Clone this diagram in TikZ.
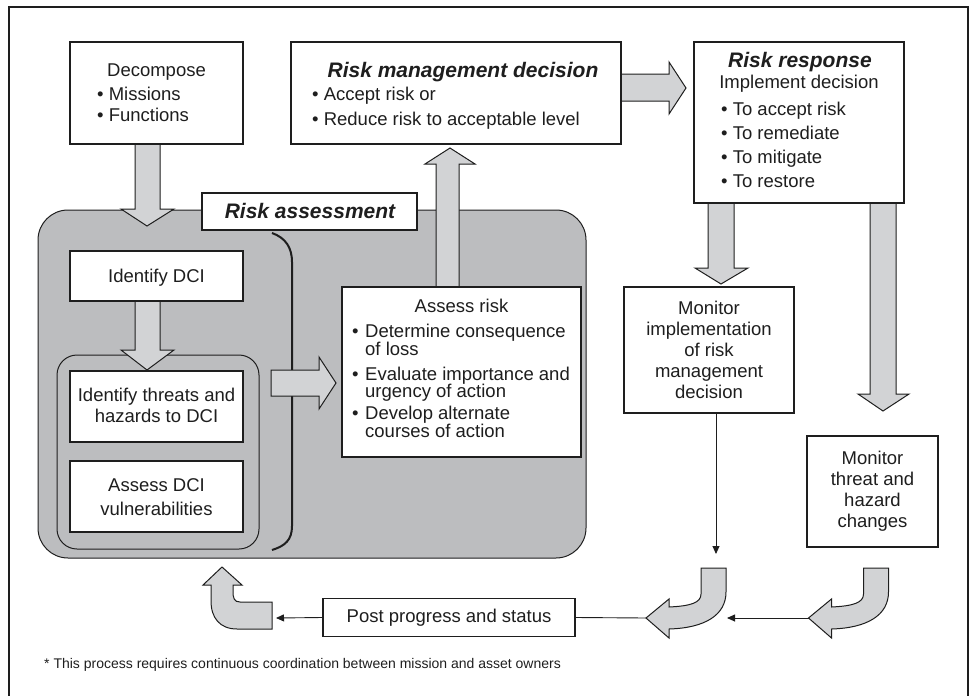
\documentclass[tikz,border=0pt]{standalone}
\usepackage{fontspec}
\setmainfont{Liberation Sans}
\usetikzlibrary{arrows.meta}
\definecolor{ragray}{RGB}{188,189,191}
\definecolor{argray}{RGB}{210,211,213}
\definecolor{ink}{RGB}{30,30,30}
\begin{document}
\begin{tikzpicture}[x=1pt,y=-1pt,
  box/.style={draw=ink, fill=white, line width=1.1pt, inner sep=0pt},
  barrow/.style={draw=ink, fill=argray, line width=1pt, line join=miter},
  txt/.style={inner sep=0pt, text=ink, font=\fontsize{18.5}{18}\selectfont},
  ttl/.style={inner sep=0pt, text=ink, font=\fontsize{21}{24}\selectfont\bfseries\itshape},
  thinln/.style={draw=ink, line width=0.9pt},
  tip/.style={-{Triangle[length=8pt,width=7pt]}}]
\useasboundingbox (0,0) rectangle (972,696);
% frame
\draw[ink, line width=1.2pt] (9,700) -- (9,7) -- (968,7) -- (968,700);

% risk assessment area
\node[draw=ink, fill=ragray, line width=1pt, rounded corners=30pt, minimum width=548pt, minimum height=348pt, inner sep=0pt] (ra) at (312,384) {};
\node[draw=ink, fill=ragray, line width=1pt, rounded corners=20pt, minimum width=202pt, minimum height=194pt, inner sep=0pt] (inner) at (158,452) {};
\draw[ink, line width=2pt] (272,233) .. controls (286,238) and (292,248) .. (292,262) -- (292,526) .. controls (292,540) and (285,546) .. (272,550);

% block arrows
\draw[barrow] (135,144) -- (135,209) -- (121,209) -- (147,226) -- (174,209) -- (160,209) -- (160,144);
\draw[barrow] (135,301) -- (135,350) -- (121,350) -- (147,370) -- (174,350) -- (160,350) -- (160,301);
\draw[barrow] (271,370) -- (319,370) -- (319,357) -- (336,383) -- (319,409) -- (319,396) -- (271,396) -- cycle;
\draw[barrow] (436,287) -- (436,164) -- (425,164) -- (450,148) -- (475,164) -- (459,164) -- (459,287);
\draw[barrow] (621,74) -- (669,74) -- (669,62) -- (686,88) -- (669,114) -- (669,101) -- (621,101);
\draw[barrow] (708,203) -- (708,268) -- (695,268) -- (721,284) -- (748,268) -- (734,268) -- (734,203);
\draw[barrow] (870,203) -- (870,394) -- (858,394) -- (883,411) -- (909,394) -- (896,394) -- (896,203);

% curved arrows
\draw[barrow] (701,568) -- (701,594) .. controls (701,603) and (690,606) .. (669,607) -- (669,599) -- (646,618) -- (669,638) -- (669,629) .. controls (705,628) and (726,615) .. (726,592) -- (726,568) -- cycle;
\coordinate (ca1) at (646,618);
\coordinate (ca1r) at (727,618);
\begin{scope}[xshift=162.5pt]
\draw[barrow] (701,568) -- (701,594) .. controls (701,603) and (690,606) .. (669,607) -- (669,599) -- (646,618) -- (669,638) -- (669,629) .. controls (705,628) and (726,615) .. (726,592) -- (726,568) -- cycle;
\coordinate (ca2) at (646,618);
\end{scope}
\draw[barrow] (272,602) -- (240,602) .. controls (234,602) and (233,598) .. (233,591) -- (233,585) -- (242,585) -- (222,567) -- (203,585) -- (211,585) -- (211,601) .. controls (211,618) and (220,629) .. (237,629) -- (272,629) -- cycle;
\coordinate (ua) at (276,618);

% boxes
\node[box, minimum width=173pt, minimum height=102pt] (dec) at (156.5,93) {};
\node[box, minimum width=330pt, minimum height=102pt] (rmd) at (456,93) {};
\node[box, minimum width=210pt, minimum height=161pt] (rr) at (799,122.5) {};
\node[box, minimum width=215pt, minimum height=37pt] (ral) at (309.5,211.5) {};
\node[box, minimum width=173pt, minimum height=50pt] (idci) at (156.5,276) {};
\node[box, minimum width=173pt, minimum height=71pt] (ith) at (156.5,406.5) {};
\node[box, minimum width=173pt, minimum height=71pt] (adv) at (156.5,496.5) {};
\node[box, minimum width=239pt, minimum height=170pt] (ar) at (461.5,372) {};
\node[box, minimum width=170pt, minimum height=126pt] (mi) at (709,350) {};
\node[box, minimum width=131pt, minimum height=111pt] (mt) at (872.5,491.5) {};
\node[box, minimum width=252pt, minimum height=38pt] (pp) at (449,617.5) {};

% texts
\node[txt, anchor=base] (t1) at (156.5,76) {Decompose};
\node[txt, anchor=base west] (t2) at (97,100) {• Missions};
\node[txt, anchor=base west] (t3) at (97,121) {• Functions};

\node[ttl, anchor=base] (t4) at (463,77) {Risk management decision};
\node[txt, anchor=base west] (t5) at (312,100) {• Accept risk or};
\node[txt, anchor=base west] (t6) at (312,125) {• Reduce risk to acceptable level};

\node[ttl, anchor=base] (t7) at (800,67) {Risk response};
\node[txt, anchor=base] (t8) at (799,88) {Implement decision};
\node[txt, anchor=base west] (t9) at (721,115) {• To accept risk};
\node[txt, anchor=base west] (t10) at (721,139) {• To remediate};
\node[txt, anchor=base west] (t11) at (721,163) {• To mitigate};
\node[txt, anchor=base west] (t12) at (721,187) {• To restore};

\node[ttl, anchor=base] (t13) at (310,218) {Risk assessment};
\node[txt, anchor=base] (t14) at (156.5,282) {Identify DCI};
\node[txt, anchor=base] (t15) at (156.5,401) {Identify threats and};
\node[txt, anchor=base] (t16) at (156.5,422) {hazards to DCI};
\node[txt, anchor=base] (t17) at (156.5,491) {Assess DCI};
\node[txt, anchor=base] (t18) at (156.5,515) {vulnerabilities};

\node[txt, anchor=base] (t19) at (461.5,312) {Assess risk};
\node[txt, anchor=base west] (t20) at (352,337) {•};
\node[txt, anchor=base west] (t21) at (365,337) {Determine consequence};
\node[txt, anchor=base west] (t22) at (365,355) {of loss};
\node[txt, anchor=base west] (t23) at (352,380) {•};
\node[txt, anchor=base west] (t24) at (365,380) {Evaluate importance and};
\node[txt, anchor=base west] (t25) at (365,397) {urgency of action};
\node[txt, anchor=base west] (t26) at (352,419) {•};
\node[txt, anchor=base west] (t27) at (365,419) {Develop alternate};
\node[txt, anchor=base west] (t28) at (365,437) {courses of action};

\node[txt, anchor=base] (t29) at (709,314) {Monitor};
\node[txt, anchor=base] (t30) at (709,335) {implementation};
\node[txt, anchor=base] (t31) at (709,356) {of risk};
\node[txt, anchor=base] (t32) at (709,377) {management};
\node[txt, anchor=base] (t33) at (709,398) {decision};

\node[txt, anchor=base] (t34) at (872.5,464) {Monitor};
\node[txt, anchor=base] (t35) at (872.5,485) {threat and};
\node[txt, anchor=base] (t36) at (872.5,506) {hazard};
\node[txt, anchor=base] (t37) at (872.5,527) {changes};

\node[txt, anchor=base] (t38) at (449,622) {Post progress and status};

\node[inner sep=0pt, text=ink, font=\fontsize{14}{16}\selectfont, anchor=base west] (fn) at (44,668) {* This process requires continuous coordination between mission and asset owners};

% thin connectors
\coordinate (mib) at (716,554);
\draw[thinln, tip] ([xshift=7pt]mi.south) -- (mib);
\draw[thinln] (pp.east) -- (ca1);
\draw[thinln, tip] (ca2) -- (ca1r);
\draw[thinln, tip] (pp.west) -- (ua);
\end{tikzpicture}
\end{document}
